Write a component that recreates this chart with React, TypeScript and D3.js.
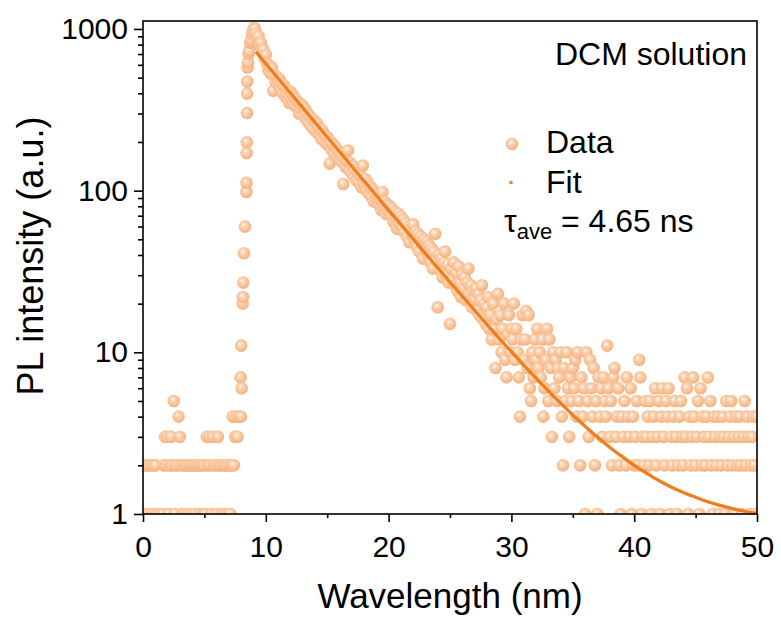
import React, { useRef, useEffect } from 'react';
import * as d3 from 'd3';

// channel spacing of the histogram (time axis grid)
const channelStep = 0.1;

// counts before the pulse, t = 0.0 ... 7.8
const baseStart = 0;
const baseCounts = [
  1, 0, 2, 1, 2, 2, 1, 2, 1, 2,
  2, 1, 0, 1, 1, 0, 1, 2, 3, 2,
  3, 1, 2, 3, 2, 5, 1, 2, 2, 4,
  3, 2, 1, 2, 1, 2, 2, 1, 2, 1,
  2, 2, 1, 2, 0, 2, 1, 2, 2, 1,
  2, 1, 3, 2, 3, 2, 1, 3, 2, 2,
  1, 3, 2, 2, 1, 2, 1, 2, 2, 1,
  2, 1, 2, 4, 2, 3, 4, 3, 4,
];

// rising edge of the pulse
const riseTimes = [7.95, 7.98, 8.0, 8.03, 8.12, 8.14, 8.17, 8.22, 8.3, 8.42, 8.43, 8.44, 8.45,
  8.47, 8.48, 8.49, 8.52, 8.55, 8.6, 8.65, 8.72, 8.8, 8.88, 8.96, 9.05, 9.12];
const riseCounts = [7, 4, 11, 6, 20, 22, 27, 41, 60, 98, 112, 171, 199,
  302, 398, 473, 577, 620, 700, 730, 820, 850, 930, 980, 1018, 1000];

// decay, t = 9.2 ... 50.0
const decayStart = 9.2;
const decayCounts = [
  940, 870, 905, 790, 820, 720, 745, 660, 690,
  610, 560, 590, 530, 575, 414, 520, 470, 505, 455,
  490, 430, 460, 400, 445, 380, 420, 395, 350, 410,
  365, 390, 340, 372, 330, 355, 300, 345, 318, 335,
  290, 320, 275, 300, 262, 288, 250, 278, 240, 268,
  232, 258, 225, 242, 210, 236, 205, 222, 196, 215,
  190, 147, 200, 178, 192, 168, 185, 160, 176, 155,
  168, 150, 110, 158, 140, 152, 177, 134, 148, 128,
  142, 122, 135, 116, 130, 112, 124, 105, 143, 110,
  118, 100, 112, 96, 106, 92, 102, 86, 97, 90,
  94, 82, 88, 76, 98, 80, 85, 72, 82, 75,
  80, 70, 77, 64, 74, 68, 58, 72, 62, 69,
  60, 66, 55, 63, 52, 60, 48, 58, 53, 62,
  50, 56, 45, 54, 42, 52, 47, 38, 50, 44,
  48, 40, 46, 36, 44, 33, 42, 54, 37, 19,
  40, 32, 38, 29, 36, 42, 30, 35, 27, 15,
  33, 28, 36, 26, 31, 24, 34, 27, 22, 30,
  25, 29, 21, 27, 33, 23, 26, 19, 24, 21,
  25, 18, 23, 17, 21, 26, 16, 20, 15, 19,
  22, 14, 17, 12, 20, 14, 8, 16, 23, 12,
  17, 10, 14, 20, 9, 7, 13, 17, 10, 14,
  12, 20, 9, 14, 10, 7, 4, 12, 17, 9,
  12, 18, 8, 17, 6, 5, 10, 7, 12, 9,
  14, 8, 10, 7, 12, 4, 6, 9, 14, 5,
  12, 8, 3, 10, 6, 9, 5, 8, 7, 10,
  4, 2, 8, 5, 10, 6, 3, 7, 5, 8,
  6, 9, 4, 10, 5, 2, 7, 4, 6, 1,
  10, 5, 3, 9, 6, 4, 8, 2, 5, 1,
  7, 4, 6, 3, 7, 5, 4, 11, 6, 3,
  5, 2, 7, 8, 3, 4, 6, 2, 1, 4,
  3, 5, 2, 7, 4, 3, 6, 1, 4, 2,
  3, 5, 2, 9, 7, 1, 3, 2, 5, 3,
  4, 2, 5, 1, 3, 4, 6, 2, 3, 5,
  1, 4, 6, 3, 2, 5, 4, 6, 1, 3,
  2, 4, 5, 3, 1, 2, 4, 5, 3, 2,
  7, 3, 6, 1, 4, 2, 3, 7, 4, 2,
  3, 5, 1, 6, 2, 4, 3, 2, 4, 7,
  3, 5, 2, 1, 4, 3, 2, 4, 1, 3,
  2, 4, 3, 1, 5, 2, 3, 4, 5, 2,
  3, 1, 4, 2, 3, 4, 2, 1, 3, 5,
  2, 4, 3, 1, 2, 3, 4, 2, 1, 4,
];

// fitted decay curve
const fitTimes = [9.2, 10, 11, 12, 13, 14, 15, 16, 17, 18, 19, 20, 21, 22, 23, 24, 25, 26, 27, 28, 29,
  30, 31, 32, 33, 34, 35, 36, 37, 38, 39, 40, 41, 42, 43, 44, 45, 46, 47, 48, 49, 50];
const fitCounts = [721.9, 610.6, 495.3, 401.8, 326.0, 264.5, 214.6, 174.2, 141.4, 114.9, 93.3, 75.8,
  61.7, 50.2, 40.8, 33.3, 27.2, 22.2, 18.2, 14.9, 12.2, 10.1, 8.34, 6.93, 5.78, 4.85, 4.10, 3.49,
  2.99, 2.59, 2.27, 2.00, 1.79, 1.61, 1.47, 1.36, 1.27, 1.19, 1.13, 1.08, 1.04, 1.01];

const xTicks = [0, 10, 20, 30, 40, 50];
const xMinorTicks = [5, 15, 25, 35, 45];
const yTicks = [1, 10, 100, 1000];

const FONT = '"Liberation Sans", Arial, Helvetica, sans-serif';
const DOT = '#f8be91';
const FIT = '#f07d1e';

const DecayChart = ({ width = 781, height = 621 }) => {
  const svgRef = useRef(null);

  useEffect(() => {
    const svg = d3.select(svgRef.current);
    svg.selectAll('*').remove();

    const box = { left: 143, right: 757, top: 21, bottom: 514 };

    const x = d3.scaleLinear().domain([0, 50]).range([box.left, box.right]);
    const y = d3.scaleLog().domain([1, 1120]).range([box.bottom, box.top]);

    const points = [
      ...baseCounts.map((v, i) => ({ t: baseStart + i * channelStep, v })),
      ...riseCounts.map((v, i) => ({ t: riseTimes[i], v })),
      ...decayCounts.map((v, i) => ({ t: decayStart + i * channelStep, v })),
    ].filter(d => d.v > 0);

    const defs = svg.append('defs');
    const grad = defs.append('radialGradient')
      .attr('id', 'ball')
      .attr('cx', 0.45).attr('cy', 0.42).attr('r', 0.6)
      .attr('fx', 0.4).attr('fy', 0.36);
    grad.append('stop').attr('offset', 0).attr('stop-color', '#fffaf5');
    grad.append('stop').attr('offset', 0.28).attr('stop-color', '#fbd6b7');
    grad.append('stop').attr('offset', 0.7).attr('stop-color', DOT);
    grad.append('stop').attr('offset', 1).attr('stop-color', '#f4b07d');

    defs.append('clipPath').attr('id', 'plotClip')
      .append('rect')
      .attr('x', box.left).attr('y', box.top)
      .attr('width', box.right - box.left).attr('height', box.bottom - box.top);

    // data points
    svg.append('g')
      .attr('clip-path', 'url(#plotClip)')
      .selectAll('circle')
      .data(points)
      .enter()
      .append('circle')
      .attr('cx', d => x(d.t))
      .attr('cy', d => y(d.v))
      .attr('r', 6.3)
      .attr('fill', 'url(#ball)');

    // fit
    const line = d3.line()
      .x(d => x(d[0]))
      .y(d => y(d[1]))
      .curve(d3.curveMonotoneX);

    svg.append('path')
      .datum(fitTimes.map((t, i) => [t, fitCounts[i]]))
      .attr('clip-path', 'url(#plotClip)')
      .attr('d', line)
      .attr('fill', 'none')
      .attr('stroke', FIT)
      .attr('stroke-width', 3.3);

    // X axis
    const xAxis = svg.append('g')
      .attr('transform', `translate(0, ${box.bottom})`)
      .call(d3.axisBottom(x).tickValues(xTicks).tickSize(8).tickPadding(14).tickFormat(d3.format('d')));
    xAxis.select('.domain').remove();
    xAxis.attr('font-family', FONT).attr('font-size', 30);
    xAxis.selectAll('text').attr('fill', '#000');
    xAxis.selectAll('line').attr('stroke', '#000').attr('stroke-width', 1.6);

    const xMinor = svg.append('g')
      .attr('transform', `translate(0, ${box.bottom})`)
      .call(d3.axisBottom(x).tickValues(xMinorTicks).tickSize(4).tickFormat(() => ''));
    xMinor.select('.domain').remove();
    xMinor.selectAll('line').attr('stroke', '#000').attr('stroke-width', 1.6);

    // Y axis
    const yAxis = svg.append('g')
      .attr('transform', `translate(${box.left}, 0)`)
      .call(d3.axisLeft(y).tickValues(yTicks).tickSize(9).tickPadding(6).tickFormat(d3.format('d')));
    yAxis.select('.domain').remove();
    yAxis.attr('font-family', FONT).attr('font-size', 30);
    yAxis.selectAll('text').attr('fill', '#000');
    yAxis.selectAll('line').attr('stroke', '#000').attr('stroke-width', 1.6);

    const yMinorValues = y.ticks().filter(v => !yTicks.includes(v));
    const yMinor = svg.append('g')
      .attr('transform', `translate(${box.left}, 0)`)
      .call(d3.axisLeft(y).tickValues(yMinorValues).tickSize(5).tickFormat(() => ''));
    yMinor.select('.domain').remove();
    yMinor.selectAll('line').attr('stroke', '#000').attr('stroke-width', 1.6);

    // frame
    svg.append('rect')
      .attr('x', box.left).attr('y', box.top)
      .attr('width', box.right - box.left).attr('height', box.bottom - box.top)
      .attr('fill', 'none')
      .attr('stroke', '#000')
      .attr('stroke-width', 1.6);

    // axis titles
    svg.append('text')
      .attr('x', (box.left + box.right) / 2)
      .attr('y', 608)
      .attr('text-anchor', 'middle')
      .attr('font-family', FONT)
      .attr('font-size', 35)
      .text('Wavelength (nm)');

    svg.append('text')
      .attr('transform', `translate(43, 256) rotate(-90)`)
      .attr('text-anchor', 'middle')
      .attr('font-family', FONT)
      .attr('font-size', 36)
      .text('PL intensity (a.u.)');

    // annotations and legend
    svg.append('text')
      .attr('x', 747).attr('y', 65)
      .attr('text-anchor', 'end')
      .attr('font-family', FONT)
      .attr('font-size', 32)
      .text('DCM solution');

    svg.append('circle')
      .attr('cx', 512).attr('cy', 144).attr('r', 6.3)
      .attr('fill', 'url(#ball)');
    svg.append('text')
      .attr('x', 546).attr('y', 153)
      .attr('font-family', FONT).attr('font-size', 32)
      .text('Data');

    svg.append('rect')
      .attr('x', 509.5).attr('y', 181).attr('width', 3).attr('height', 3)
      .attr('fill', FIT);
    svg.append('text')
      .attr('x', 546).attr('y', 193)
      .attr('font-family', FONT).attr('font-size', 32)
      .text('Fit');

    const tau = svg.append('text')
      .attr('x', 504).attr('y', 232)
      .attr('font-family', FONT).attr('font-size', 32);
    tau.append('tspan').text('τ');
    tau.append('tspan').attr('dy', 7).attr('font-size', 22).text('ave');
    tau.append('tspan').attr('dy', -7).text(' = 4.65 ns');
  }, [width, height]);

  return (
    <svg ref={svgRef} width={width} height={height} style={{ display: 'block', background: '#fff' }} />
  );
};

export default function App() {
  return (
    <div>
      <style>{'body{margin:0;background:#fff}'}</style>
      <DecayChart />
    </div>
  );
}
